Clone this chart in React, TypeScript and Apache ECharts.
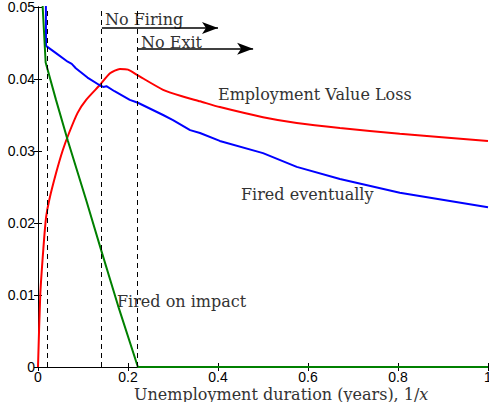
import React, { useEffect, useRef } from "react";
import * as echarts from "echarts";

const lossX = [0, 0.005, 0.012, 0.018, 0.025, 0.04, 0.055, 0.069, 0.088, 0.107, 0.138, 0.16, 0.182, 0.2, 0.222, 0.278, 0.32, 0.36, 0.404, 0.5, 0.575, 0.671, 0.804, 1];
const lossY = [0, 0.01, 0.0165, 0.0208, 0.0232, 0.0269, 0.0301, 0.0325, 0.0353, 0.0371, 0.0392, 0.0408, 0.0414, 0.0413, 0.0405, 0.0385, 0.0376, 0.0369, 0.0361, 0.0347, 0.0339, 0.0332, 0.0324, 0.0314];

const evX = [0.016, 0.0178, 0.04, 0.066, 0.075, 0.084, 0.11, 0.138, 0.145, 0.152, 0.17, 0.204, 0.222, 0.278, 0.3, 0.338, 0.36, 0.404, 0.5, 0.575, 0.671, 0.804, 1];
const evY = [0.08, 0.0446, 0.0436, 0.0424, 0.0421, 0.0415, 0.0402, 0.0391, 0.0389, 0.039, 0.0383, 0.0371, 0.0367, 0.035, 0.0343, 0.0329, 0.0325, 0.0314, 0.0297, 0.0278, 0.0261, 0.0242, 0.0222];

const impX = [0.006, 0.0104, 0.017, 0.04, 0.066, 0.107, 0.14, 0.18, 0.222, 1];
const impY = [0.07, 0.05, 0.0423, 0.0371, 0.0315, 0.0232, 0.0163, 0.0081, 0, 0];

const cutoffs = [0.017, 0.144, 0.223];
const noFiring = { from: 0.142, to: 0.4, y: 0.0471 };
const noExit = { from: 0.222, to: 0.478, y: 0.0442 };

const xTicks = { min: 0, max: 1, interval: 0.2 };
const yTicks = { min: 0, max: 0.05, interval: 0.01 };

const zip = (xs: number[], ys: number[]) => xs.map((x, i) => [x, ys[i]]);

const serif = "DejaVu Serif";
const sans = "Liberation Sans";
const tf = `16px "${serif}"`;
const tc = "#333";

export default function App() {
  const ref = useRef<HTMLDivElement>(null);
  useEffect(() => {
    const chart = echarts.init(ref.current!, null, { renderer: "svg" });
    const axisLine = { show: true, lineStyle: { color: "#000", width: 1 } };
    const tick = { show: true, inside: true, length: 4, lineStyle: { color: "#000" } };
    const fmtX = (v: number) => (v === 0 ? "0" : v === 1 ? "1" : v.toFixed(1));
    const fmtY = (v: number) => (v === 0 ? "0" : v.toFixed(2));
    chart.setOption({
      animation: false,
      grid: { left: 38, right: 1, top: 7, bottom: 35, containLabel: false, outerBoundsMode: "none" },
      xAxis: [
        {
          type: "value", ...xTicks, position: "bottom",
          axisLine, axisTick: tick, splitLine: { show: false },
          axisLabel: { formatter: fmtX, color: "#000", fontFamily: sans, fontSize: 14, margin: 3 },
        },
        {
          type: "value", ...xTicks, position: "top",
          axisLine, axisTick: tick, splitLine: { show: false }, axisLabel: { show: false },
        },
      ],
      yAxis: [
        {
          type: "value", ...yTicks, position: "left",
          axisLine, axisTick: tick, splitLine: { show: false },
          axisLabel: { formatter: fmtY, color: "#000", fontFamily: sans, fontSize: 14, margin: 3 },
        },
        {
          type: "value", ...yTicks, position: "right",
          axisLine, axisTick: tick, splitLine: { show: false }, axisLabel: { show: false },
        },
      ],
      series: [
        {
          type: "line", data: zip(lossX, lossY), showSymbol: false, clip: true,
          smooth: 0.2,
          lineStyle: { color: "#ff0000", width: 2 }, itemStyle: { color: "#ff0000" },
        },
        {
          type: "line", data: zip(evX, evY), showSymbol: false, clip: true,
          lineStyle: { color: "#0000ff", width: 2 }, itemStyle: { color: "#0000ff" },
        },
        {
          type: "line", data: zip(impX, impY), showSymbol: false, clip: true,
          lineStyle: { color: "#008000", width: 2 }, itemStyle: { color: "#008000" },
          markLine: {
            silent: true, symbol: "none", label: { show: false },
            lineStyle: { color: "#000", type: [5, 4], width: 1 },
            data: cutoffs.map((c) => ({ xAxis: c })),
          },
        },
        {
          type: "line", data: [], showSymbol: false,
          markLine: {
            silent: true, symbol: ["none", "arrow"], symbolSize: [9, 16], label: { show: false },
            lineStyle: { color: "#000", type: "solid", width: 1.5 },
            data: [
              [{ coord: [noFiring.from, noFiring.y] }, { coord: [noFiring.to, noFiring.y] }],
              [{ coord: [noExit.from, noExit.y] }, { coord: [noExit.to, noExit.y] }],
            ],
          },
        },
      ],
      graphic: [
        { type: "text", left: 105, top: 11, style: { text: "No Firing", font: tf, fill: tc } },
        { type: "text", left: 141, top: 34, style: { text: "No Exit", font: tf, fill: tc } },
        { type: "text", left: 218, top: 86, style: { text: "Employment Value Loss", font: tf, fill: tc } },
        { type: "text", left: 241, top: 186, style: { text: "Fired eventually", font: tf, fill: tc } },
        { type: "text", left: 117, top: 293, style: { text: "Fired on impact", font: tf, fill: tc } },
        {
          type: "text", left: 134, top: 386,
          style: {
            text: "{a|Unemployment duration (years), 1/}{b|x}",
            rich: {
              a: { font: tf, fill: tc },
              b: { font: `italic 16px "${serif}"`, fill: tc },
            },
          },
        },
      ],
    });
    return () => chart.dispose();
  }, []);
  return <div ref={ref} style={{ width: 489, height: 402, position: "absolute", left: 0, top: 0 }} />;
}
